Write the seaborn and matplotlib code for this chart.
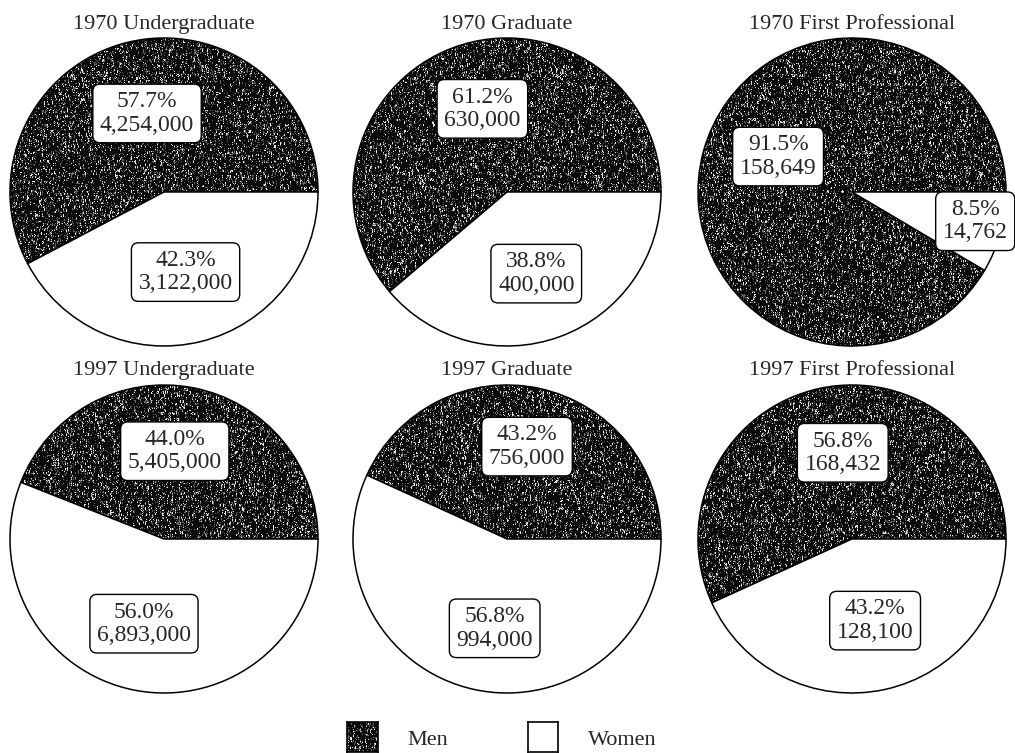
import matplotlib
matplotlib.use("Agg")
import matplotlib.pyplot as plt
import seaborn as sns
import pandas as pd
import numpy as np

# data
titles = ["1970 Undergraduate", "1970 Graduate", "1970 First Professional",
          "1997 Undergraduate", "1997 Graduate", "1997 First Professional"]
men_pct = [57.7, 61.2, 91.5, 44.0, 43.2, 56.8]
women_pct = [42.3, 38.8, 8.5, 56.0, 56.8, 43.2]
men_count = [4254000, 630000, 158649, 5405000, 756000, 168432]
women_count = [3122000, 400000, 14762, 6893000, 994000, 128100]

enroll = pd.DataFrame({"title": titles, "men_pct": men_pct, "women_pct": women_pct,
                       "men_count": men_count, "women_count": women_count})

# label box positions inside each pie (pie units, radius = 1)
men_pos = [(-0.11, 0.51), (-0.16, 0.54), (-0.48, 0.23), (0.07, 0.57), (0.13, 0.60), (-0.06, 0.56)]
women_pos = [(0.14, -0.52), (0.19, -0.53), (0.80, -0.19), (-0.13, -0.55), (-0.08, -0.58), (0.15, -0.53)]

sns.set_style("white")
plt.rcParams['font.family'] = ['Liberation Serif', 'DejaVu Serif']

W, H = 1015, 753
fig = plt.figure(figsize=(W / 100, H / 100), dpi=100)

centers_x = [164, 507, 852]
centers_y = [192, 539]
title_base = [29, 375]
r = 154

rng = np.random.default_rng(3)


def texture(h, w):
    # speckled near-black fill, streaky in the vertical direction
    base = rng.random((h // 3 + 1, w))
    base = np.repeat(base, 3, axis=0)[:h]
    fine = rng.random((h, w))
    tex = 0.55 * base + 0.45 * fine
    return np.where(tex > 0.8, 0.9, np.where(tex > 0.66, 0.4, 0.04))


box = dict(boxstyle="round,pad=0.3,rounding_size=0.3", fc="white", ec="black", lw=1)

for i, row in enroll.iterrows():
    cx = centers_x[i % 3]
    cy = centers_y[i // 3]
    pad = 1.02
    left = (cx - r * pad) / W
    bottom = (H - (cy + r * pad)) / H
    ax = fig.add_axes([left, bottom, 2 * r * pad / W, 2 * r * pad / H])
    wedges, _ = ax.pie([row["men_pct"], row["women_pct"]], colors=["none", "white"],
                       startangle=0, counterclock=True,
                       wedgeprops=dict(edgecolor="black", linewidth=1.1))
    for w in wedges:
        w.set_zorder(2)
    im = ax.imshow(texture(310, 310), extent=(-1, 1, -1, 1), cmap="gray",
                   vmin=0, vmax=1, aspect="auto", zorder=1, interpolation="nearest")
    im.set_clip_path(wedges[0])
    ax.set_aspect("auto")
    ax.set_xlim(-pad, pad)
    ax.set_ylim(-pad, pad)
    ax.axis("off")

    mx, my = men_pos[i]
    ax.text(mx, my, f"{row['men_pct']:.1f}%\n{row['men_count']:,}", ha="center", va="center",
            fontsize=17, linespacing=1.15, bbox=box, zorder=5, clip_on=False)
    wx, wy = women_pos[i]
    ax.text(wx, wy, f"{row['women_pct']:.1f}%\n{row['women_count']:,}", ha="center", va="center",
            fontsize=17, linespacing=1.15, bbox=box, zorder=5, clip_on=False)

    fig.text(cx / W, 1 - title_base[i // 3] / H, row["title"], ha="center", va="baseline",
             fontsize=16)

# legend drawn by hand
lx = fig.add_axes([347 / W, 1 - 752 / H, 31 / W, 30 / H])
lx.imshow(texture(30, 31), cmap="gray", vmin=0, vmax=1, aspect="auto", interpolation="nearest")
lx.set_xticks([])
lx.set_yticks([])
wx_ = fig.add_axes([528 / W, 1 - 752 / H, 30 / W, 30 / H])
wx_.set_facecolor("white")
wx_.set_xticks([])
wx_.set_yticks([])
for a in (lx, wx_):
    for s in a.spines.values():
        s.set_color("black")
        s.set_linewidth(1.2)
fig.text(407 / W, 1 - 745 / H, "Men", ha="left", va="baseline", fontsize=16)
fig.text(588 / W, 1 - 745 / H, "Women", ha="left", va="baseline", fontsize=16)

fig.savefig("out.png", dpi=100, facecolor="white")
